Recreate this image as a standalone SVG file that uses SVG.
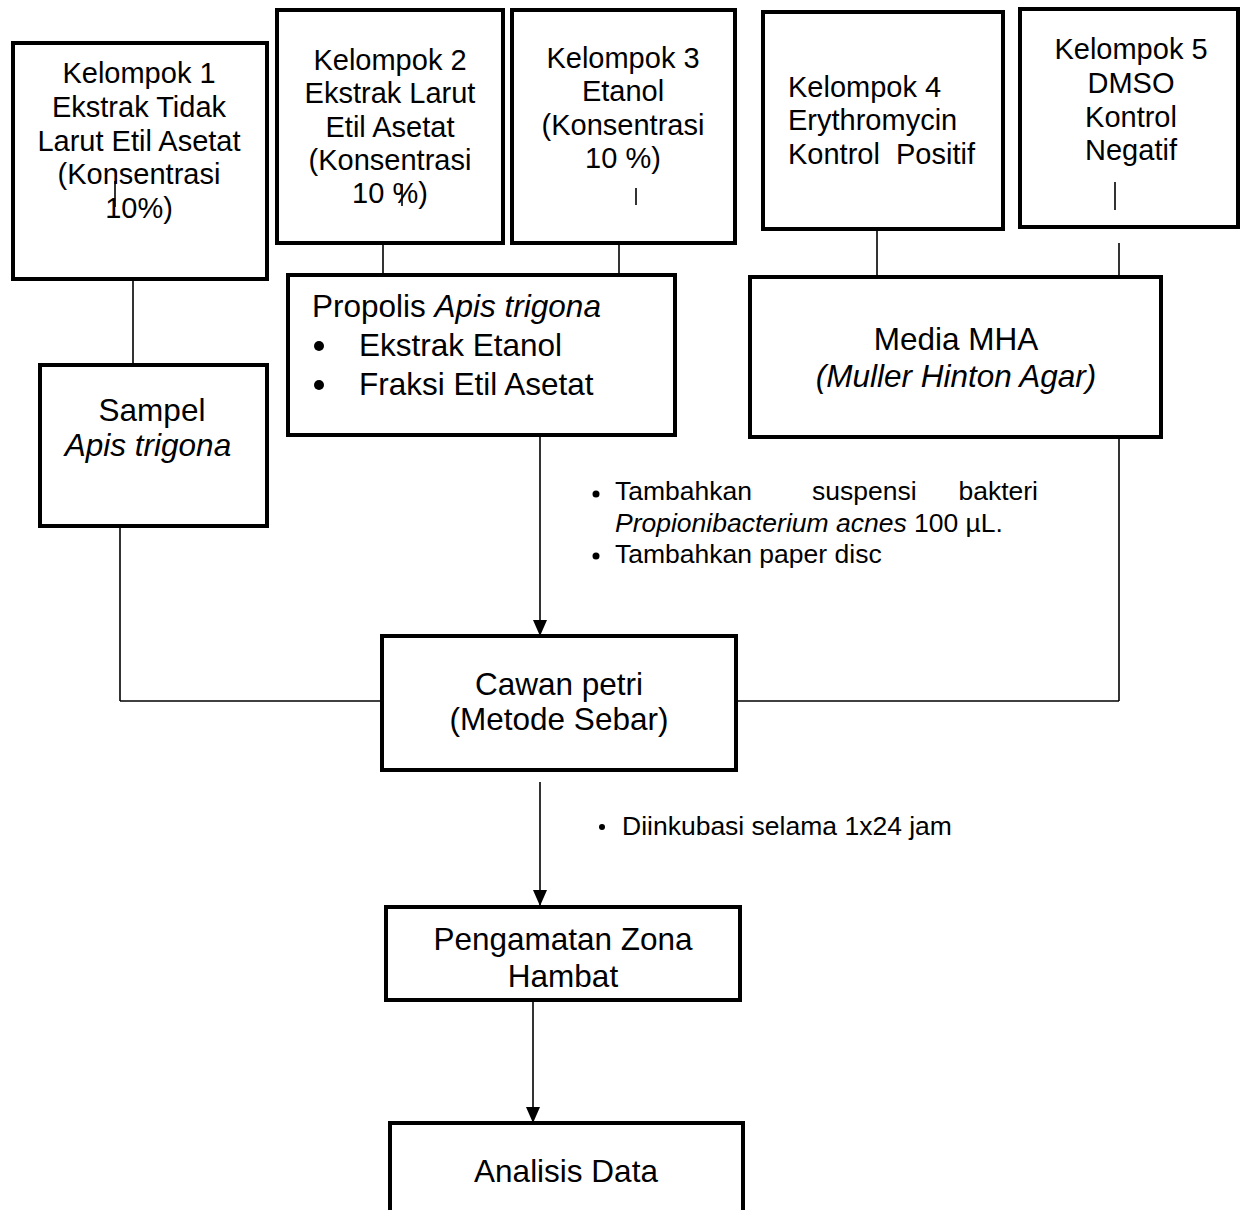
<svg xmlns="http://www.w3.org/2000/svg" width="1241" height="1210" viewBox="0 0 1241 1210">
<style>
.box{fill:#fff;stroke:#000;stroke-width:4}
.ln{stroke:#000;stroke-width:1.6;fill:none}
text{font-family:"Liberation Sans",Arial,sans-serif;fill:#000}
.t{font-size:29px}
.b{font-size:31.5px}
.a{font-size:26.5px}
.c{text-anchor:middle}
.i{font-style:italic}
</style>
<defs>
<marker id="ah" markerWidth="16" markerHeight="14" refX="16" refY="7" orient="auto" markerUnits="userSpaceOnUse">
<path d="M0,0 L16,7 L0,14 Z" fill="#000"/>
</marker>
</defs>
<rect width="1241" height="1210" fill="#fff"/>
<g id="connectors">
<line class="ln" x1="133" y1="279" x2="133" y2="365"/>
<line class="ln" x1="383" y1="243" x2="383" y2="277"/>
<line class="ln" x1="619" y1="243" x2="619" y2="277"/>
<line class="ln" x1="877" y1="182" x2="877" y2="277"/>
<line class="ln" x1="1119" y1="243" x2="1119" y2="277"/>
<line class="ln" x1="120" y1="526" x2="120" y2="701"/>
<line class="ln" x1="120" y1="701" x2="382" y2="701"/>
<line class="ln" x1="1119" y1="437" x2="1119" y2="701"/>
<line class="ln" x1="736" y1="701" x2="1119" y2="701"/>
<line class="ln" x1="540" y1="437" x2="540" y2="636" marker-end="url(#ah)"/>
<line class="ln" x1="540" y1="782" x2="540" y2="906" marker-end="url(#ah)"/>
<line class="ln" x1="533" y1="1000" x2="533" y2="1123" marker-end="url(#ah)"/>
</g>
<g id="k1">
<rect class="box" x="13" y="43" width="254" height="236"/>
<text class="t c" x="139" y="83">Kelompok 1</text>
<text class="t c" x="139" y="117">Ekstrak Tidak</text>
<text class="t c" x="139" y="151">Larut Etil Asetat</text>
<text class="t c" x="139" y="184">(Konsentrasi</text>
<text class="t c" x="139" y="218">10%)</text>
<line class="ln" x1="115" y1="181" x2="115" y2="207"/>
</g>
<g id="k2">
<rect class="box" x="277" y="10" width="226" height="233"/>
<text class="t c" x="390" y="70">Kelompok 2</text>
<text class="t c" x="390" y="103">Ekstrak Larut</text>
<text class="t c" x="390" y="137">Etil Asetat</text>
<text class="t c" x="390" y="170">(Konsentrasi</text>
<text class="t c" x="390" y="203">10 %)</text>
<line class="ln" x1="402" y1="184" x2="402" y2="206"/>
</g>
<g id="k3">
<rect class="box" x="512" y="10" width="223" height="233"/>
<text class="t c" x="623" y="68">Kelompok 3</text>
<text class="t c" x="623" y="101">Etanol</text>
<text class="t c" x="623" y="135">(Konsentrasi</text>
<text class="t c" x="623" y="168">10 %)</text>
<line class="ln" x1="636" y1="188" x2="636" y2="205"/>
</g>
<g id="k4">
<rect class="box" x="763" y="12" width="240" height="217"/>
<text class="t" x="788" y="97">Kelompok 4</text>
<text class="t" x="788" y="130">Erythromycin</text>
<text class="t" x="788" y="164" xml:space="preserve">Kontrol  Positif</text>
</g>
<g id="k5">
<rect class="box" x="1020" y="9" width="218" height="218"/>
<text class="t c" x="1131" y="59">Kelompok 5</text>
<text class="t c" x="1131" y="93">DMSO</text>
<text class="t c" x="1131" y="127">Kontrol</text>
<text class="t c" x="1131" y="160">Negatif</text>
<line class="ln" x1="1115" y1="182" x2="1115" y2="210"/>
</g>
<g id="propolis">
<rect class="box" x="288" y="275" width="387" height="160"/>
<text class="b" x="312" y="317">Propolis <tspan class="i">Apis trigona</tspan></text>
<circle cx="319" cy="346" r="5"/>
<circle cx="319" cy="385" r="5"/>
<text class="b" x="359" y="356">Ekstrak Etanol</text>
<text class="b" x="359" y="395">Fraksi Etil Asetat</text>
</g>
<g id="media">
<rect class="box" x="750" y="277" width="411" height="160"/>
<text class="b c" x="956" y="350">Media MHA</text>
<text class="b c i" x="956" y="387">(Muller Hinton Agar)</text>
</g>
<g id="sampel">
<rect class="box" x="40" y="365" width="227" height="161"/>
<text class="b c" x="152" y="421">Sampel</text>
<text class="b c i" x="148" y="456">Apis trigona</text>
</g>
<g id="annot1">
<circle cx="596" cy="494" r="3.5"/>
<text class="a" x="615" y="500">Tambahkan</text>
<text class="a" x="812" y="500">suspensi</text>
<text class="a" x="1038" y="500" text-anchor="end">bakteri</text>
<text class="a" x="615" y="532"><tspan class="i">Propionibacterium acnes</tspan> 100 µL.</text>
<circle cx="596" cy="556" r="3.5"/>
<text class="a" x="615" y="563">Tambahkan paper disc</text>
</g>
<g id="cawan">
<rect class="box" x="382" y="636" width="354" height="134"/>
<text class="b c" x="559" y="695">Cawan petri</text>
<text class="b c" x="559" y="730">(Metode Sebar)</text>
</g>
<g id="annot2">
<circle cx="602" cy="827" r="3"/>
<text class="a" x="622" y="835">Diinkubasi selama 1x24 jam</text>
</g>
<g id="pengamatan">
<rect class="box" x="386" y="907" width="354" height="93"/>
<text class="b c" x="563" y="950">Pengamatan Zona</text>
<text class="b c" x="563" y="987">Hambat</text>
</g>
<g id="analisis">
<rect class="box" x="390" y="1123" width="353" height="100"/>
<text class="b c" x="566" y="1182">Analisis Data</text>
</g>
</svg>
